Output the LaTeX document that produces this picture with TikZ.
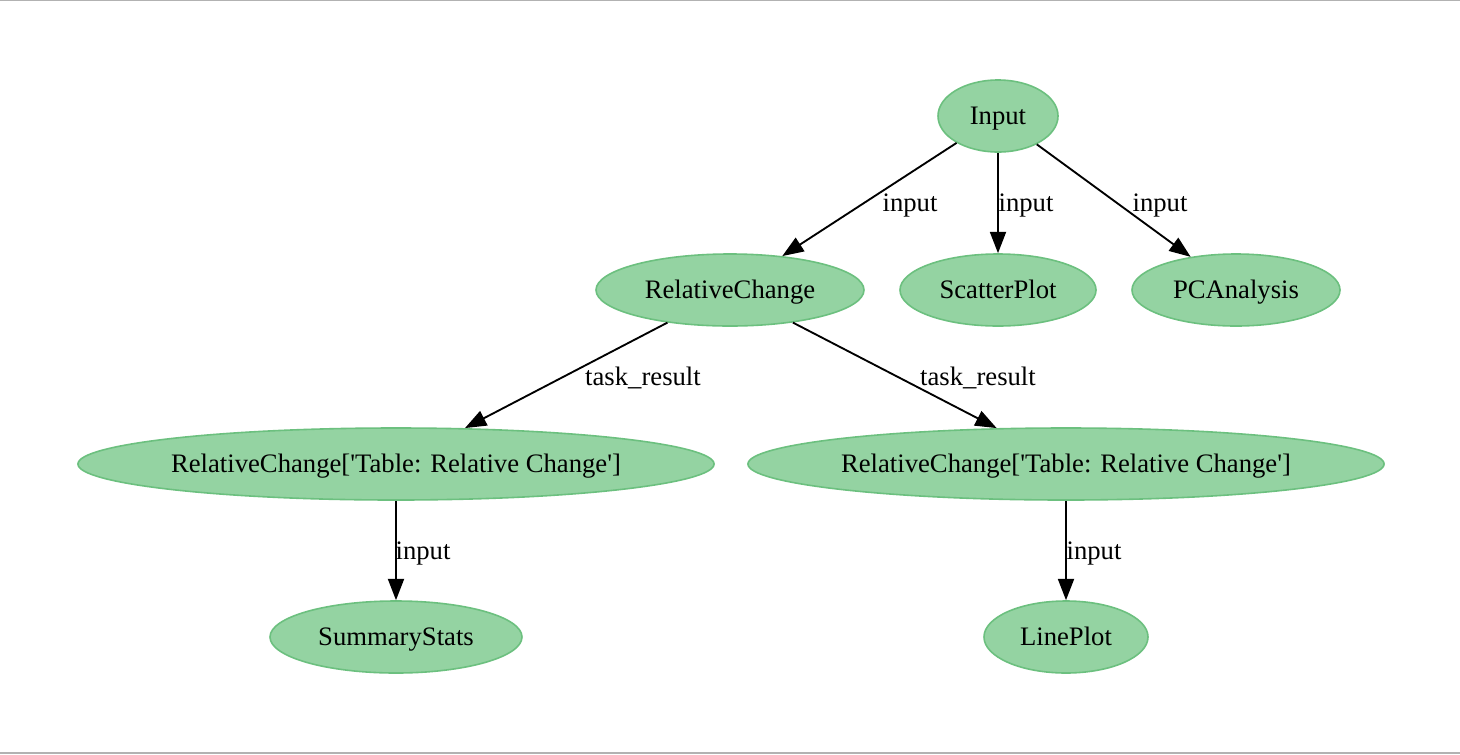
\documentclass[tikz,border=0pt]{standalone}
\usepackage{fontspec}
\setmainfont{Liberation Serif}
\usetikzlibrary{shapes.geometric,arrows.meta}
\definecolor{nodefill}{HTML}{94D3A2}
\definecolor{nodeline}{HTML}{6CC07F}
\tikzset{
  gnode/.style={ellipse, fill=nodefill, draw=nodeline, line width=1.2pt, inner sep=0pt, text height=15pt, text depth=2pt, font=\fontsize{20pt}{24pt}\selectfont},
  gedge/.style={draw=black, line width=1.4pt, -{Triangle[length=16pt,width=12pt]}},
  elabel/.style={font=\fontsize{20pt}{24pt}\selectfont, inner sep=0pt, text height=15pt, text depth=2pt}
}
\begin{document}
\begin{tikzpicture}[x=0.75pt,y=-0.75pt]
\useasboundingbox (0,0) rectangle (1460,754);
\fill[white] (0,0) rectangle (1460,754);
\draw[gray!60, line width=0.8pt] (0,0.5) -- (1460,0.5);
\draw[gray!60, line width=0.8pt] (0,753) -- (1460,753);

\node[gnode, minimum width=120*0.75pt, minimum height=72*0.75pt] (in) at (998,116) {Input};
\node[gnode, minimum width=268*0.75pt, minimum height=72*0.75pt] (rc) at (730,290) {RelativeChange};
\node[gnode, minimum width=196*0.75pt, minimum height=72*0.75pt] (sp) at (998,290) {ScatterPlot};
\node[gnode, minimum width=208*0.75pt, minimum height=72*0.75pt] (pca) at (1236,290) {PCAnalysis};
\node[gnode, minimum width=634*0.75pt, minimum height=72*0.75pt] (tl) at (396,464) {RelativeChange[\textquotesingle Table: Relative Change\textquotesingle]};
\node[gnode, minimum width=634*0.75pt, minimum height=72*0.75pt] (tr) at (1066,464) {RelativeChange[\textquotesingle Table: Relative Change\textquotesingle]};
\node[gnode, minimum width=252*0.75pt, minimum height=72*0.75pt] (ss) at (396,637) {SummaryStats};
\node[gnode, minimum width=164*0.75pt, minimum height=72*0.75pt] (lp) at (1066,637) {LinePlot};

\draw[gedge] (in) -- (rc);
\draw[gedge] (in) -- (sp);
\draw[gedge] (in) -- (pca);
\draw[gedge] (rc) -- (tl);
\draw[gedge] (rc) -- (tr);
\draw[gedge] (tl) -- (ss);
\draw[gedge] (tr) -- (lp);

\node[elabel] (l1) at (910,203) {input};
\node[elabel] (l2) at (1026,203) {input};
\node[elabel] (l3) at (1160,203) {input};
\node[elabel] (l4) at (643,377) {task\_result};
\node[elabel] (l5) at (978,377) {task\_result};
\node[elabel] (l6) at (423,551) {input};
\node[elabel] (l7) at (1094,551) {input};
\end{tikzpicture}
\end{document}
